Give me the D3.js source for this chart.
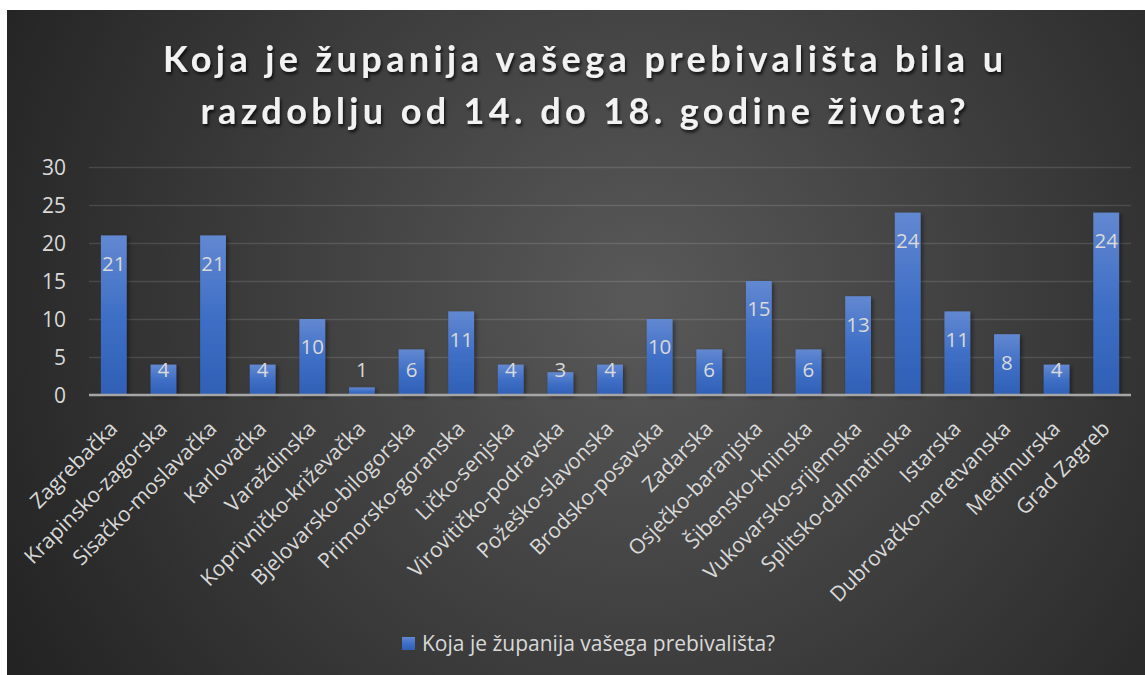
<!DOCTYPE html>
<html>
<head>
    <meta charset="utf-8">
    <script src="https://d3js.org/d3.v7.min.js"></script>
    <style>
        body { margin: 0; background: #fff; }
        svg { display: block; font-family: "Open Sans", sans-serif; }
        .grid line { stroke: #ffffff; stroke-opacity: 0.12; stroke-width: 1.5; }
        .grid path { display: none; }
        .axis path, .axis line { display: none; }
        .axis text { fill: #d9d9d9; font-family: "Open Sans", sans-serif; }
    </style>
</head>
<body>
<div id="chart"></div>
<script>
    // data
    const counties = [
        "Zagrebačka", "Krapinsko-zagorska", "Sisačko-moslavačka", "Karlovačka",
        "Varaždinska", "Koprivničko-križevačka", "Bjelovarsko-bilogorska",
        "Primorsko-goranska", "Ličko-senjska", "Virovitičko-podravska",
        "Požeško-slavonska", "Brodsko-posavska", "Zadarska", "Osječko-baranjska",
        "Šibensko-kninska", "Vukovarsko-srijemska", "Splitsko-dalmatinska",
        "Istarska", "Dubrovačko-neretvanska", "Međimurska", "Grad Zagreb"
    ];
    const counts = [21, 4, 21, 4, 10, 1, 6, 11, 4, 3, 4, 10, 6, 15, 6, 13, 24, 11, 8, 4, 24];
    const yTicks = [0, 5, 10, 15, 20, 25, 30];
    const titleLines = [
        "Koja je županija vašega prebivališta bila u",
        "razdoblju od 14. do 18. godine života?"
    ];
    const seriesName = "Koja je županija vašega prebivališta?";

    const data = counties.map((c, i) => ({ name: c, value: counts[i] }));

    const width = 1145, height = 675;
    const plot = { left: 89, right: 1131, top: 167, bottom: 395 };

    const svg = d3.select("#chart").append("svg")
        .attr("width", width)
        .attr("height", height);

    const defs = svg.append("defs");

    const bg = defs.append("radialGradient")
        .attr("id", "bg")
        .attr("gradientUnits", "userSpaceOnUse")
        .attr("cx", 640).attr("cy", 300).attr("r", 720);
    bg.append("stop").attr("offset", "0%").attr("stop-color", "#595959");
    bg.append("stop").attr("offset", "100%").attr("stop-color", "#232323");

    const barGrad = defs.append("linearGradient")
        .attr("id", "bar")
        .attr("x1", 0).attr("y1", 0).attr("x2", 0).attr("y2", 1);
    barGrad.append("stop").attr("offset", "0%").attr("stop-color", "#6288d1");
    barGrad.append("stop").attr("offset", "50%").attr("stop-color", "#3f6fc6");
    barGrad.append("stop").attr("offset", "100%").attr("stop-color", "#2f60b6");

    const shadow = defs.append("filter").attr("id", "shadow")
        .attr("x", "-20%").attr("y", "-20%").attr("width", "160%").attr("height", "140%");
    shadow.append("feDropShadow")
        .attr("dx", 2).attr("dy", 2).attr("stdDeviation", 2)
        .attr("flood-color", "#000").attr("flood-opacity", 0.45);

    const titleShadow = defs.append("filter").attr("id", "tshadow")
        .attr("x", "-5%").attr("y", "-20%").attr("width", "110%").attr("height", "150%");
    titleShadow.append("feDropShadow")
        .attr("dx", 1.5).attr("dy", 2.5).attr("stdDeviation", 1.5)
        .attr("flood-color", "#000").attr("flood-opacity", 0.75);

    // chart background
    svg.append("rect")
        .attr("x", 7).attr("y", 10)
        .attr("width", width - 7).attr("height", height - 10)
        .attr("fill", "url(#bg)");

    // scales
    const x = d3.scaleBand()
        .domain(counties)
        .range([plot.left, plot.right])
        .paddingInner(0.48)
        .paddingOuter(0.24);

    const y = d3.scaleLinear()
        .domain([0, 30])
        .range([plot.bottom, plot.top]);

    // gridlines
    svg.append("g")
        .attr("class", "grid")
        .attr("transform", `translate(${plot.left},0)`)
        .call(d3.axisLeft(y).tickValues(yTicks.slice(1)).tickSize(-(plot.right - plot.left)).tickFormat(""));

    // y axis labels
    svg.append("g")
        .attr("class", "axis")
        .attr("transform", `translate(${plot.left},0)`)
        .call(d3.axisLeft(y).tickValues(yTicks).tickSize(0).tickPadding(23))
        .selectAll("text")
        .style("font-size", "21px")
        .attr("dy", "0.36em");

    // bars
    svg.append("g")
        .selectAll("rect")
        .data(data)
        .join("rect")
        .attr("x", d => x(d.name))
        .attr("y", d => y(d.value))
        .attr("width", x.bandwidth())
        .attr("height", d => y(0) - y(d.value))
        .attr("fill", "url(#bar)")
        .attr("filter", "url(#shadow)");

    // baseline
    svg.append("line")
        .attr("x1", plot.left).attr("x2", plot.right)
        .attr("y1", y(0)).attr("y2", y(0))
        .attr("stroke", "#a6a6a6")
        .attr("stroke-width", 2.5);

    // value labels
    svg.append("g")
        .selectAll("text")
        .data(data)
        .join("text")
        .attr("x", d => x(d.name) + x.bandwidth() / 2)
        .attr("y", d => Math.min(y(d.value) + 28, y(0) - 25))
        .attr("dy", "0.36em")
        .attr("text-anchor", "middle")
        .attr("fill", "#d9d9d9")
        .style("font-size", "20.5px")
        .text(d => d.value);

    // category labels
    svg.append("g")
        .attr("class", "axis")
        .attr("transform", `translate(0,${plot.bottom})`)
        .call(d3.axisBottom(x).tickSize(0).tickPadding(0))
        .selectAll("text")
        .style("font-size", "21px")
        .attr("text-anchor", "end")
        .attr("dy", 0)
        .attr("transform", "translate(5,35) rotate(-45)")
        .attr("y", 0).attr("x", 0);

    // title
    const titleTargets = [840, 765];
    titleLines.forEach((line, i) => {
        const t = svg.append("text")
            .attr("x", 583)
            .attr("y", 72 + i * 52)
            .attr("text-anchor", "middle")
            .attr("fill", "#f2f2f2")
            .attr("filter", "url(#tshadow)")
            .style("font-family", "Lato, sans-serif")
            .style("font-size", "36px")
            .style("font-weight", "bold")
            .text(line);
        const len = t.node().getComputedTextLength();
        const ls = (titleTargets[i] - len) / (line.length - 1);
        t.style("letter-spacing", ls + "px")
            .attr("x", 583 + ls / 2);
    });

    // legend
    const legend = svg.append("g").attr("transform", "translate(402,637)");
    legend.append("rect")
        .attr("width", 13).attr("height", 13)
        .attr("fill", "url(#bar)");
    legend.append("text")
        .attr("x", 20).attr("y", 14)
        .attr("fill", "#d9d9d9")
        .style("font-size", "21px")
        .text(seriesName);
</script>
</body>
</html>
